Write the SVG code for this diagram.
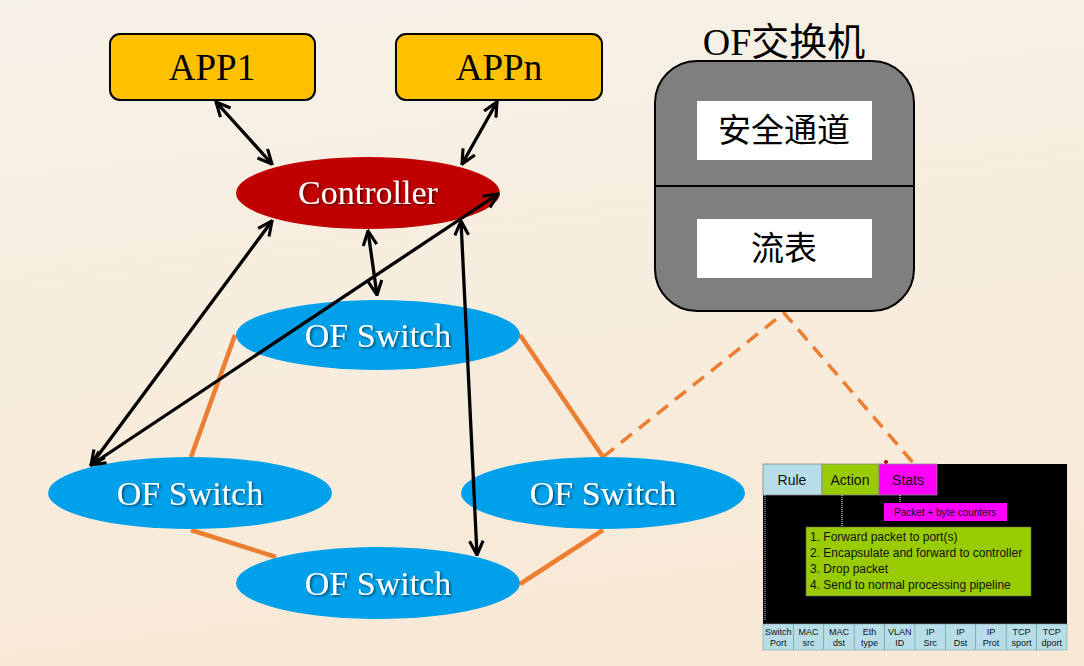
<svg xmlns="http://www.w3.org/2000/svg" width="1084" height="666" viewBox="0 0 1084 666">
<defs>
<linearGradient id="bg" x1="0" y1="0" x2="0.2" y2="1">
<stop offset="0" stop-color="#f6f1e7"/>
<stop offset="1" stop-color="#f8e9d6"/>
</linearGradient>
<filter id="ts" x="-10%" y="-20%" width="130%" height="150%">
<feDropShadow dx="1.5" dy="1.5" stdDeviation="0.8" flood-color="#000" flood-opacity="0.55"/>
</filter>
<marker id="ah" viewBox="0 0 12 12" refX="11" refY="6" markerWidth="17" markerHeight="17" markerUnits="userSpaceOnUse" orient="auto-start-reverse">
<path d="M1,1.2 L11,6 L1,10.8" fill="none" stroke="#000" stroke-width="2.2"/>
</marker>
<style>
.app{fill:#ffc000;stroke:#000;stroke-width:2}
.apptxt{font-family:"Liberation Serif",serif;font-size:37px;fill:#000;text-anchor:middle}
.sw{fill:#00a0ea}
.wtxt{font-family:"Liberation Serif",serif;font-size:34px;fill:#fff;text-anchor:middle;filter:url(#ts)}
.arr{stroke:#000;stroke-width:3.3;fill:none;marker-start:url(#ah);marker-end:url(#ah)}
.lnk{stroke:#ed7d31;stroke-width:4.5;fill:none}
.dash{stroke:#ed7d31;stroke-width:3.5;fill:none;stroke-dasharray:14 9}
.cjk{font-family:"Noto Sans CJK SC",sans-serif;font-size:33px;fill:#000;text-anchor:middle}
.tsm{font-family:"Liberation Sans",Arial,sans-serif;fill:#111}
.cell{fill:#b7dde8;stroke:#7aa;stroke-width:0.6}
</style>
</defs>
<rect width="1084" height="666" fill="url(#bg)"/>

<g id="connectors">
<line class="lnk" x1="235" y1="335" x2="191" y2="457"/>
<line class="lnk" x1="520" y1="335" x2="603" y2="457"/>
<line class="lnk" x1="191" y1="530" x2="276" y2="557"/>
<line class="lnk" x1="603" y1="530" x2="520" y2="584"/>
<polyline class="dash" points="603,457 784,313 915,465"/>
</g>

<g id="app1">
<rect class="app" x="110" y="34" width="205" height="66" rx="10"/>
<text class="apptxt" x="212" y="80">APP1</text>
</g>
<g id="appn">
<rect class="app" x="396" y="34" width="206" height="66" rx="10"/>
<text class="apptxt" x="499" y="80">APPn</text>
</g>

<g id="controller">
<ellipse cx="368" cy="193" rx="132" ry="36" fill="#c00000"/>
<text class="wtxt" x="368" y="204">Controller</text>
</g>

<g id="switch-top">
<ellipse class="sw" cx="378" cy="335" rx="142" ry="35"/>
<text class="wtxt" x="378" y="347">OF Switch</text>
</g>
<g id="switch-left">
<ellipse class="sw" cx="190" cy="493" rx="142" ry="36"/>
<text class="wtxt" x="190" y="505">OF Switch</text>
</g>
<g id="switch-right">
<ellipse class="sw" cx="603" cy="493" rx="142" ry="36"/>
<text class="wtxt" x="603" y="505">OF Switch</text>
</g>
<g id="switch-bottom">
<ellipse class="sw" cx="378" cy="583" rx="142" ry="36"/>
<text class="wtxt" x="378" y="595">OF Switch</text>
</g>

<g id="arrows">
<line class="arr" x1="216" y1="102" x2="272" y2="164"/>
<line class="arr" x1="497" y1="102" x2="462" y2="164"/>
<line class="arr" x1="272" y1="221" x2="91" y2="465"/>
<line class="arr" x1="498" y1="194" x2="91" y2="465"/>
<line class="arr" x1="368" y1="231" x2="377" y2="295"/>
<line class="arr" x1="461" y1="221" x2="477" y2="555"/>
</g>

<g id="of-switch">
<text x="784" y="55" font-family="'Liberation Serif','Noto Sans CJK SC',serif" font-size="38" text-anchor="middle" fill="#000">OF交换机</text>
<rect x="655" y="61" width="259" height="250" rx="42" fill="#7f7f7f" stroke="#000" stroke-width="2"/>
<line x1="655" y1="186" x2="914" y2="186" stroke="#000" stroke-width="2"/>
<rect x="697" y="101" width="175" height="59" fill="#fff"/>
<text class="cjk" x="784" y="142">安全通道</text>
<rect x="697" y="219" width="175" height="59" fill="#fff"/>
<text class="cjk" x="784" y="260">流表</text>
</g>

<g id="flow-table">
<rect x="763" y="464" width="304" height="186" fill="#000"/>
<circle cx="886" cy="462" r="2" fill="#c00000"/>
<rect x="763" y="464" width="59" height="31" fill="#b7dde8" stroke="#888" stroke-width="0.8"/>
<rect x="822" y="464" width="57" height="31" fill="#99cc00" stroke="#888" stroke-width="0.8"/>
<rect x="879" y="464" width="58" height="31" fill="#ff00ff" stroke="#888" stroke-width="0.8"/>
<text class="tsm" x="792" y="485" font-size="14" text-anchor="middle">Rule</text>
<text class="tsm" x="850" y="485" font-size="14" text-anchor="middle">Action</text>
<text class="tsm" x="908" y="485" font-size="14" text-anchor="middle">Stats</text>
<line x1="842" y1="495" x2="842" y2="527" stroke="#bbb" stroke-width="1.5" stroke-dasharray="1 1"/>
<line x1="900" y1="495" x2="900" y2="503" stroke="#bbb" stroke-width="1.5" stroke-dasharray="1 1"/>
<line x1="765" y1="495" x2="765" y2="620" stroke="#999" stroke-width="1.5" stroke-dasharray="1 1"/>
<rect x="884" y="503" width="123" height="18" fill="#ff00ff"/>
<text class="tsm" x="945" y="516" font-size="10" text-anchor="middle">Packet + byte counters</text>
<rect x="806" y="527" width="225" height="69" fill="#99cc00" stroke="#666" stroke-width="0.6"/>
<text class="tsm" x="810" y="541" font-size="12">1. Forward packet to port(s)</text>
<text class="tsm" x="810" y="557" font-size="12">2. Encapsulate and forward to controller</text>
<text class="tsm" x="810" y="573" font-size="12">3. Drop packet</text>
<text class="tsm" x="810" y="589" font-size="12">4. Send to normal processing pipeline</text>
<g font-size="9" text-anchor="middle" class="tsm">
<rect class="cell" x="763" y="624" width="30.4" height="26"/>
<rect class="cell" x="793.4" y="624" width="30.4" height="26"/>
<rect class="cell" x="823.8" y="624" width="30.4" height="26"/>
<rect class="cell" x="854.2" y="624" width="30.4" height="26"/>
<rect class="cell" x="884.6" y="624" width="30.4" height="26"/>
<rect class="cell" x="915" y="624" width="30.4" height="26"/>
<rect class="cell" x="945.4" y="624" width="30.4" height="26"/>
<rect class="cell" x="975.8" y="624" width="30.4" height="26"/>
<rect class="cell" x="1006.2" y="624" width="30.4" height="26"/>
<rect class="cell" x="1036.6" y="624" width="30.4" height="26"/>
<text x="778.2" y="635">Switch</text><text x="778.2" y="646">Port</text>
<text x="808.6" y="635">MAC</text><text x="808.6" y="646">src</text>
<text x="839" y="635">MAC</text><text x="839" y="646">dst</text>
<text x="869.4" y="635">Eth</text><text x="869.4" y="646">type</text>
<text x="899.8" y="635">VLAN</text><text x="899.8" y="646">ID</text>
<text x="930.2" y="635">IP</text><text x="930.2" y="646">Src</text>
<text x="960.6" y="635">IP</text><text x="960.6" y="646">Dst</text>
<text x="991" y="635">IP</text><text x="991" y="646">Prot</text>
<text x="1021.4" y="635">TCP</text><text x="1021.4" y="646">sport</text>
<text x="1051.8" y="635">TCP</text><text x="1051.8" y="646">dport</text>
</g>
</g>
</svg>
